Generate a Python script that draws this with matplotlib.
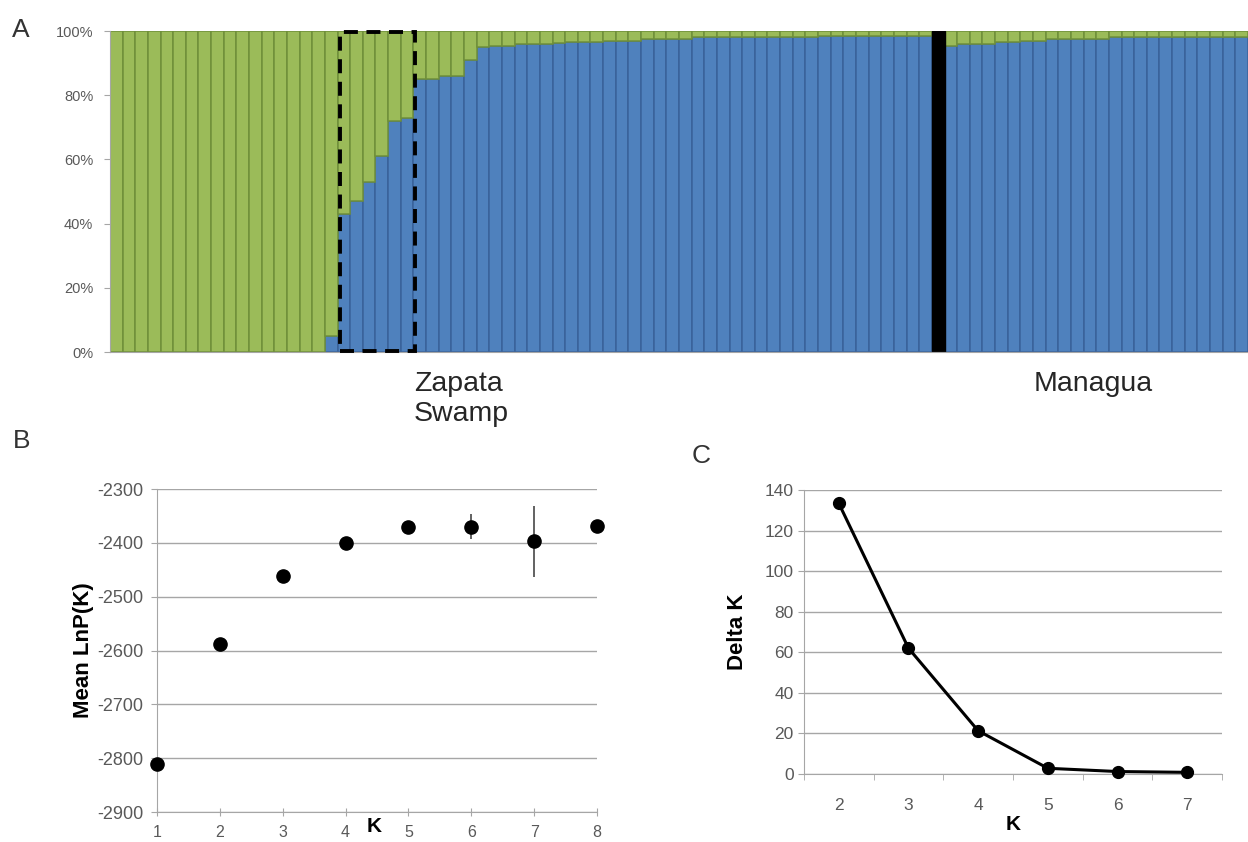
import numpy as np
import matplotlib
matplotlib.use('Agg')
import matplotlib.pyplot as plt
from matplotlib.patches import Rectangle

plt.rcParams['font.family'] = ['Liberation Sans', 'DejaVu Sans']
plt.rcParams['axes.unicode_minus'] = False

#1. data

# panel A : blue membership (%) per individual, green is the rest
zapata_blue = [0] * 17 + [5, 43, 47, 53, 61, 72, 73,
               85, 85, 86, 86, 91, 95, 95.5, 95.5,
               96, 96, 96, 96.2, 96.5, 96.5, 96.5, 97, 97, 97,
               97.5, 97.5, 97.5, 97.5, 98, 98, 98, 98, 98, 98,
               98.3, 98.3, 98.3, 98.3, 98.5, 98.5, 98.5, 98.5, 98.5, 98.5,
               98.5, 98.5, 98.5]
managua_blue = [95.5, 96, 96, 96, 96.5, 96.5, 97, 97,
                97.5, 97.5, 97.5, 97.5, 97.5,
                98.3, 98.3, 98.3, 98.3, 98.3, 98.3, 98.3, 98.3, 98.3, 98.3, 98.3]
box_first, box_last = 18, 23  # dashed box around admixed individuals
pct_ticks = [0, 20, 40, 60, 80, 100]

# panel B : mean LnP(K)
k_b = [1, 2, 3, 4, 5, 6, 7, 8]
lnp_mean = [-2811, -2588, -2462, -2401, -2370, -2370, -2397, -2368]
lnp_sd = [0, 0, 0, 0, 0, 23, 66, 0]

# panel C : delta K
k_c = [2, 3, 4, 5, 6, 7]
delta_k = [133.4, 62, 21.3, 2.8, 1.2, 0.8]

green = '#9BBB59'
blue = '#4F81BD'
grey_txt = '#595959'
grid_c = '#A6A6A6'

fig = plt.figure(figsize=(12.48, 8.42), dpi=100)

#2. panel A
axA = fig.add_axes([0.0881, 0.5819, 0.9119, 0.3812])
blue_all = np.array(zapata_blue + [np.nan] + managua_blue)
n = len(blue_all)
xpos = np.arange(n)
sep = len(zapata_blue)
ok = ~np.isnan(blue_all)
axA.bar(xpos[ok], blue_all[ok], width=1.0, color=blue, edgecolor='#3A629A', linewidth=1.1)
axA.bar(xpos[ok], 100 - blue_all[ok], bottom=blue_all[ok], width=1.0, color=green,
        edgecolor='#6F8F3A', linewidth=1.1)
axA.bar(sep, 100, width=1.0, color='black', edgecolor='black')
axA.add_patch(Rectangle((box_first - 0.3, 0.3), box_last - box_first + 0.9, 99.4, fill=False,
                        edgecolor='black', linestyle=(0, (3.6, 2.2)), linewidth=2.8, zorder=5, clip_on=False))
axA.set_xlim(-0.5, n - 0.5)
axA.set_ylim(0, 100)
axA.set_yticks(pct_ticks)
axA.set_yticklabels([f'{t}%' for t in pct_ticks])
axA.set_xticks([])
axA.tick_params(axis='y', direction='out', length=4, color=grid_c, labelsize=10.5, labelcolor=grey_txt, pad=8)
for s in ['top', 'right']:
    axA.spines[s].set_visible(False)
axA.spines['left'].set_color(grid_c)
axA.spines['bottom'].set_color(grid_c)

fig.text(414 / 1248, 1 - 399 / 842, 'Zapata\nSwamp', fontsize=20.5, color='#262626', ha='left', va='center',
         linespacing=1.2)
fig.text(1034 / 1248, 1 - 384 / 842, 'Managua', fontsize=20.5, color='#262626', ha='left', va='center')

#3. panel B
axB = fig.add_axes([0.1258, 0.0356, 0.3526, 0.3836])
axB.errorbar(k_b, lnp_mean, yerr=lnp_sd, fmt='o', color='black', ms=9.5, ecolor='#555555',
             elinewidth=1.3, capsize=0, clip_on=False, zorder=3)
axB.set_xlim(1, 8)
axB.set_ylim(-2900, -2300)
axB.set_yticks(np.arange(-2900, -2299, 100))
axB.set_xticks(k_b)
axB.grid(axis='y', color=grid_c, linewidth=1)
axB.set_axisbelow(True)
axB.tick_params(axis='both', direction='out', length=4, color=grid_c, labelsize=13, labelcolor=grey_txt,
                pad=6)
axB.tick_params(axis='x', direction='inout', length=6, pad=6, labelsize=11.5)
for s in ['top', 'right']:
    axB.spines[s].set_visible(False)
axB.spines['left'].set_color(grid_c)
axB.spines['bottom'].set_color(grid_c)
axB.set_ylabel('Mean LnP(K)', fontsize=16, fontweight='bold', labelpad=2)
fig.text(374 / 1248, 1 - 827 / 842, 'K', fontsize=15, fontweight='bold', ha='center', va='center')

#4. panel C
axC = fig.add_axes([0.6442, 0.0808, 0.335, 0.3373])
axC.plot(k_c, delta_k, color='black', linewidth=2.2, marker='o', ms=8.5, clip_on=False, zorder=3)
axC.set_xlim(1.5, 7.5)
axC.set_ylim(0, 140)
axC.set_yticks(np.arange(0, 141, 20))
axC.set_xticks(k_c)
axC.set_xticks(np.arange(1.5, 7.6, 1), minor=True)
axC.grid(axis='y', color=grid_c, linewidth=1)
axC.set_axisbelow(True)
axC.tick_params(axis='both', which='both', direction='out', length=4, color=grid_c, labelsize=12.5,
                labelcolor=grey_txt)
axC.tick_params(axis='x', which='major', length=0, pad=17)
for s in ['top', 'right']:
    axC.spines[s].set_visible(False)
axC.spines['left'].set_color(grid_c)
axC.spines['bottom'].set_color(grid_c)
axC.set_ylabel('Delta K', fontsize=16, fontweight='bold', labelpad=12)
axC.set_xlabel('K', fontsize=15, fontweight='bold', labelpad=2)

# panel letters
fig.text(12 / 1248, 1 - 30 / 842, 'A', fontsize=19, color='#333333', va='center')
fig.text(13 / 1248, 1 - 441 / 842, 'B', fontsize=19, color='#333333', va='center')
fig.text(692 / 1248, 1 - 456 / 842, 'C', fontsize=19, color='#333333', va='center')

fig.savefig('out.png', dpi=100)
